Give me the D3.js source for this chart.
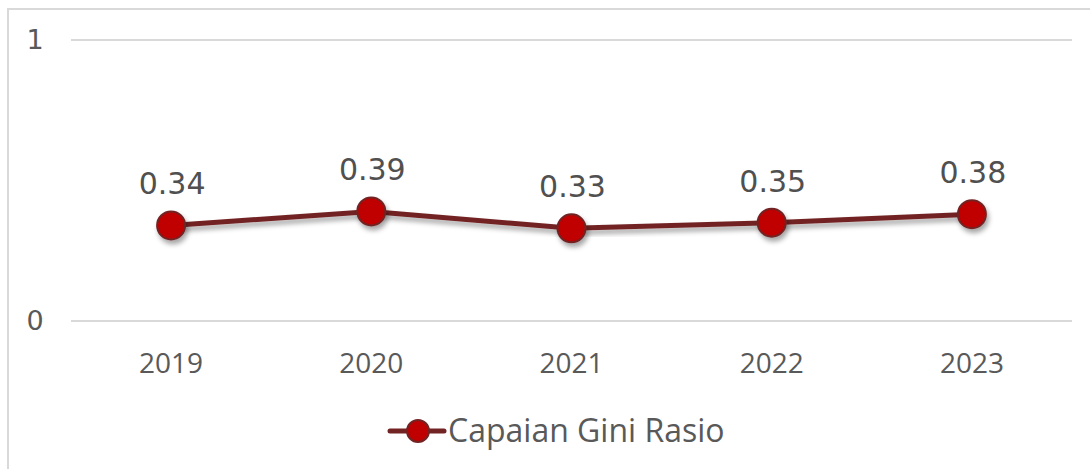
<!DOCTYPE html>
<html>
<head>
<meta charset="utf-8">
<script src="https://cdn.jsdelivr.net/npm/d3@7"></script>
<style>
  html, body { margin: 0; padding: 0; background: #fff; }
  .verd { font-family: "DejaVu Sans", Verdana, sans-serif; }
  .open { font-family: "Open Sans", sans-serif; }
</style>
</head>
<body>
<div id="vis"></div>
<script>
// chart values
const years = ["2019", "2020", "2021", "2022", "2023"];
const gini = [0.34, 0.39, 0.33, 0.35, 0.38];
const yTicks = [0, 1];
const seriesName = "Capaian Gini Rasio";

const width = 1090, height = 469;

const svg = d3.select("#vis").append("svg")
  .attr("width", width)
  .attr("height", height);

// drop shadow for the markers
const defs = svg.append("defs");
const f = defs.append("filter").attr("id", "shadow")
  .attr("x", "-50%").attr("y", "-50%").attr("width", "200%").attr("height", "200%");
f.append("feDropShadow").attr("dx", 2).attr("dy", 4).attr("stdDeviation", 2.5)
  .attr("flood-color", "#000").attr("flood-opacity", 0.35);

// outer frame (right and bottom edges fall outside the picture)
svg.append("rect")
  .attr("x", 8).attr("y", 9)
  .attr("width", width + 10).attr("height", height + 10)
  .attr("fill", "none").attr("stroke", "#d9d9d9").attr("stroke-width", 2);

const x = d3.scalePoint().domain(years).range([71, 1072]).padding(0.5);
const y = d3.scaleLinear().domain([0, 1]).range([321, 40]);

// gridlines
svg.append("g").selectAll("line")
  .data(yTicks)
  .join("line")
  .attr("x1", 71).attr("x2", 1072)
  .attr("y1", d => y(d)).attr("y2", d => y(d))
  .attr("stroke", "#d9d9d9").attr("stroke-width", 2);

// y axis labels
svg.append("g").selectAll("text")
  .data(yTicks)
  .join("text")
  .attr("class", "verd")
  .attr("x", 35).attr("y", d => y(d) + 9)
  .attr("text-anchor", "middle")
  .attr("font-size", 27)
  .attr("fill", "#595959")
  .text(d => d);

// x axis labels
svg.append("g").selectAll("text")
  .data(years)
  .join("text")
  .attr("class", "open")
  .attr("x", d => x(d)).attr("y", 373)
  .attr("text-anchor", "middle")
  .attr("font-size", 28)
  .attr("fill", "#595959")
  .text(d => d);

const pts = years.map((yr, i) => ({ yr, v: gini[i] }));

// line
svg.append("path")
  .datum(pts)
  .attr("fill", "none")
  .attr("stroke", "#722323")
  .attr("stroke-width", 5)
  .attr("filter", "url(#shadow)")
  .attr("d", d3.line().x(d => x(d.yr)).y(d => y(d.v)));

// markers
svg.append("g").selectAll("circle")
  .data(pts)
  .join("circle")
  .attr("cx", d => x(d.yr)).attr("cy", d => y(d.v))
  .attr("r", 14)
  .attr("fill", "#c00000")
  .attr("stroke", "#722323").attr("stroke-width", 2)
  .attr("filter", "url(#shadow)");

// data labels
svg.append("g").selectAll("text")
  .data(pts)
  .join("text")
  .attr("class", "verd")
  .attr("x", d => x(d.yr) + 1).attr("y", d => y(d.v) - 31)
  .attr("text-anchor", "middle")
  .attr("font-size", 30)
  .attr("fill", "#505050")
  .text(d => d.v.toFixed(2));

// legend
const lg = svg.append("g").attr("transform", "translate(390,431)");
lg.append("line").attr("x1", 0).attr("x2", 54).attr("y1", 0).attr("y2", 0)
  .attr("stroke", "#722323").attr("stroke-width", 5).attr("stroke-linecap", "round");
lg.append("circle").attr("cx", 28).attr("cy", 0).attr("r", 11)
  .attr("fill", "#c00000").attr("stroke", "#722323").attr("stroke-width", 2);
lg.append("text").attr("class", "open").attr("x", 58).attr("y", 11)
  .attr("font-size", 32)
  .attr("fill", "#595959")
  .text(seriesName);
</script>
</body>
</html>
